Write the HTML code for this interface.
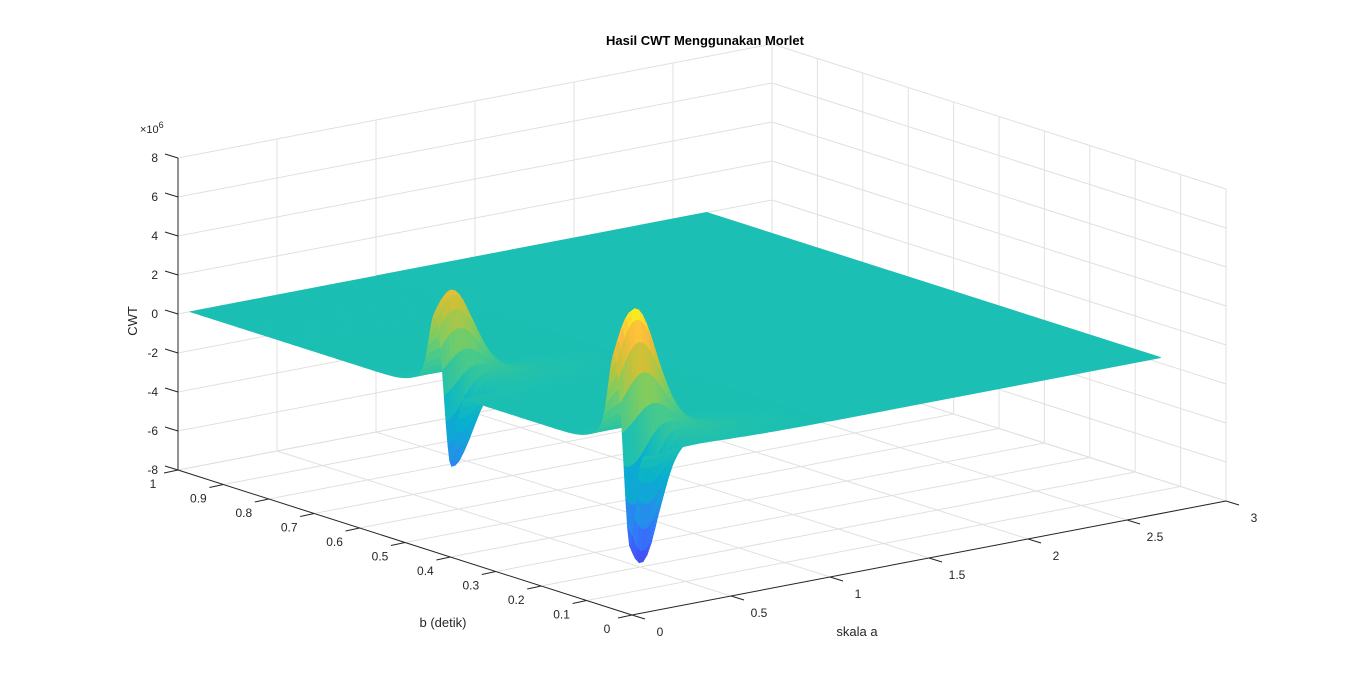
<!DOCTYPE html>
<html><head><meta charset="utf-8">
<style>
html,body{margin:0;padding:0;background:#fff;}
svg{display:block;font-family:"Liberation Sans",Arial,sans-serif;}
</style></head>
<body>
<svg id="chart" width="1360" height="691" viewBox="0 0 1360 691" xmlns="http://www.w3.org/2000/svg">
<rect width="1360" height="691" fill="#fff"/>
<g id="grid"></g>
<g id="surface"></g>
<g id="axes"></g>
<text x="705" y="45" text-anchor="middle" font-size="13" font-weight="bold" fill="#000">Hasil CWT Menggunakan Morlet</text>
<text x="140" y="133" font-size="11" fill="#262626">×10<tspan dy="-5" font-size="9">6</tspan></text>
<text transform="translate(137,321) rotate(-90)" text-anchor="middle" font-size="13" fill="#262626">CWT</text>
<text x="443" y="627" text-anchor="middle" font-size="13" fill="#262626">b (detik)</text>
<text x="857" y="636" text-anchor="middle" font-size="13" fill="#262626">skala a</text>
</svg>
<script>
// ---- data ----
const zTicks = [-8,-6,-4,-2,0,2,4,6,8];
const bTicks = [0,0.1,0.2,0.3,0.4,0.5,0.6,0.7,0.8,0.9,1];
const aTicks = [0,0.5,1,1.5,2,2.5,3];
const peakB = [0.46, 0.065];
const peakA = [0.14, 0.16];
const peakZ = [4.2, 6.0];
const troughB = [0.425, 0.03];
const troughA = [0.07, 0.11];
const troughZ = [-4.2, -6.5];
const skirtZ = [0.8, 1.0];
const aMin = 0.06, aMax = 2.67, aDetail = 1.0;

// ---- projection (axis functions) ----
function px(b,a,z){ return 632 - 454*b + 198*a; }
function py(b,a,z){ return 615 - 145*b - 38*a - 19.5*(z+8); }
function P(b,a,z){ return [px(b,a,z), py(b,a,z)]; }

function zval(b,a){
  let z=0;
  for(let i=0;i<peakB.length;i++){
    z += peakZ[i]*Math.exp(-Math.pow((b-peakB[i])/0.018,2)-Math.pow((a-peakA[i])/0.15,2));
    z += troughZ[i]*Math.exp(-Math.pow((b-troughB[i])/0.016,2)-Math.pow((a-troughA[i])/0.13,2));
    z += skirtZ[i]*Math.exp(-Math.pow((b-peakB[i])/0.05,2)-Math.pow((a-peakA[i])/0.4,2));
  }
  return z;
}
const stops=[[0.2422,0.1504,0.6603],[0.278,0.292,0.945],[0.201,0.466,0.99],[0.116,0.597,0.889],[0.028,0.69,0.808],[0.11,0.75,0.7],[0.27,0.788,0.555],[0.51,0.8,0.37],[0.78,0.76,0.22],[0.99,0.74,0.24],[0.9769,0.9839,0.0805]];
function parula(t){
  t=Math.max(0,Math.min(1,t))*10; const i=Math.min(9,Math.floor(t)); const f=t-i;
  const c=stops[i].map((v,k)=>Math.round(255*(v+(stops[i+1][k]-v)*f)));
  return 'rgb('+c.join(',')+')';
}
const cmin=-7, cmax=7;
function col(z){ return parula((z-cmin)/(cmax-cmin)); }

const NS='http://www.w3.org/2000/svg';
function line(g,p,q,stroke,w,name){
  const l=document.createElementNS(NS,'line');
  l.setAttribute('x1',p[0]);l.setAttribute('y1',p[1]);l.setAttribute('x2',q[0]);l.setAttribute('y2',q[1]);
  l.setAttribute('stroke',stroke);l.setAttribute('stroke-width',w);
  
  
  g.appendChild(l);
}
function text(g,x,y,s,anchor,name){
  const t=document.createElementNS(NS,'text');
  t.setAttribute('x',x);t.setAttribute('y',y);t.setAttribute('text-anchor',anchor);
  t.setAttribute('font-size','12');t.setAttribute('fill','#262626');t.textContent=s;
  
  
  g.appendChild(t);
}
// ---- grid ----
const grid=document.getElementById('grid'); const gc='#e0e0e0';
aTicks.forEach(a=>{ line(grid,P(1,a,-8),P(1,a,8),gc,1,'grid-line'); line(grid,P(0,a,-8),P(1,a,-8),gc,1,'grid-line'); });
zTicks.forEach(z=>{ line(grid,P(1,0,z),P(1,3,z),gc,1,'grid-line'); line(grid,P(0,3,z),P(1,3,z),gc,1,'grid-line'); });
bTicks.forEach(b=>{ line(grid,P(b,3,-8),P(b,3,8),gc,1,'grid-line'); line(grid,P(b,0,-8),P(b,3,-8),gc,1,'grid-line'); });

// ---- surface ----
const surf=document.getElementById('surface');
const base=document.createElementNS(NS,'polygon');
const bp=[P(1,aDetail,0),P(1,aMax,0),P(0,aMax,0),P(0,aDetail,0)];
base.setAttribute('points',bp.map(p=>p.join(',')).join(' '));
base.setAttribute('fill',col(0));base.setAttribute('stroke',col(0));


surf.appendChild(base);
const nb=250, na=Math.round((aDetail-aMin)/0.02);
const quads=[];
for(let i=0;i<nb;i++){
  const b0=i/nb, b1=(i+1)/nb;
  for(let j=0;j<na;j++){
    const a0=aMin+(aDetail-aMin)*j/na, a1=aMin+(aDetail-aMin)*(j+1)/na;
    const z00=zval(b0,a0),z01=zval(b0,a1),z10=zval(b1,a0),z11=zval(b1,a1);
    const zm=(z00+z01+z10+z11)/4;
    quads.push({d:145*(b0+b1)/2+38*(a0+a1)/2, pts:[P(b0,a0,z00),P(b0,a1,z01),P(b1,a1,z11),P(b1,a0,z10)], c:col(zm)});
  }
}
quads.sort((p,q)=>q.d-p.d);
let html='';
quads.forEach(q=>{
  html+='<polygon points="'+q.pts.map(p=>p[0].toFixed(1)+','+p[1].toFixed(1)).join(' ')+'" fill="'+q.c+'" stroke="'+q.c+'" stroke-width="0.6"/>';
});
surf.insertAdjacentHTML('beforeend',html);

// ---- axes ----
const ax=document.getElementById('axes'); const ac='#262626';
line(ax,P(1,0,-8),P(1,0,8),ac,1,'z-axis-line');
zTicks.forEach(z=>{ const p=P(1,0,z); line(ax,p,[p[0]-13,p[1]-4],ac,1,'z-tick'); text(ax,p[0]-20,p[1]+4,String(z),'end','z-tick-label'); });
line(ax,P(0,0,-8),P(1,0,-8),ac,1,'b-axis-line');
bTicks.forEach(b=>{ const p=P(b,0,-8); line(ax,p,[p[0]-14,p[1]+3],ac,1,'b-tick'); text(ax,p[0]-25,p[1]+18,String(b),'middle','b-tick-label'); });
line(ax,P(0,0,-8),P(0,3,-8),ac,1,'a-axis-line');
aTicks.forEach(a=>{ const p=P(0,a,-8); line(ax,p,[p[0]+13,p[1]+4],ac,1,'a-tick'); text(ax,p[0]+28,p[1]+21,String(a),'middle','a-tick-label'); });
</script>
</body></html>
